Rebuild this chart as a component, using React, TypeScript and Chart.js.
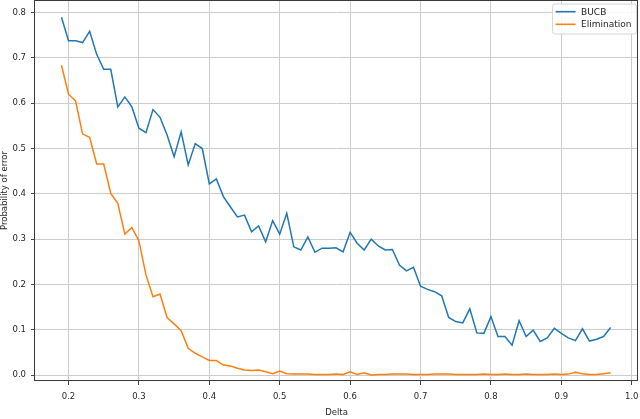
import React, { useEffect, useRef } from "react";
import { Chart, registerables } from "chart.js";

Chart.register(...registerables);

const deltas = [
  0.19, 0.2, 0.21, 0.22, 0.23, 0.24, 0.25, 0.26, 0.27, 0.28, 0.29,
  0.3, 0.31, 0.32, 0.33, 0.34, 0.35, 0.36, 0.37, 0.38, 0.39,
  0.4, 0.41, 0.42, 0.43, 0.44, 0.45, 0.46, 0.47, 0.48, 0.49,
  0.5, 0.51, 0.52, 0.53, 0.54, 0.55, 0.56, 0.57, 0.58, 0.59,
  0.6, 0.61, 0.62, 0.63, 0.64, 0.65, 0.66, 0.67, 0.68, 0.69,
  0.7, 0.71, 0.72, 0.73, 0.74, 0.75, 0.76, 0.77, 0.78, 0.79,
  0.8, 0.81, 0.82, 0.83, 0.84, 0.85, 0.86, 0.87, 0.88, 0.89,
  0.9, 0.91, 0.92, 0.93, 0.94, 0.95, 0.96, 0.97,
];

const bucb = [
  0.79, 0.738, 0.738, 0.734, 0.759, 0.708, 0.675, 0.675, 0.592, 0.614, 0.592,
  0.545, 0.535, 0.586, 0.569, 0.53, 0.482, 0.537, 0.464, 0.511, 0.5,
  0.422, 0.433, 0.394, 0.371, 0.349, 0.353, 0.316, 0.329, 0.294, 0.341,
  0.311, 0.357, 0.283, 0.276, 0.305, 0.271, 0.28, 0.28, 0.281, 0.272,
  0.315, 0.291, 0.276, 0.3, 0.285, 0.276, 0.277, 0.243, 0.23, 0.238,
  0.196, 0.189, 0.184, 0.175, 0.127, 0.118, 0.115, 0.146, 0.093, 0.092,
  0.129, 0.085, 0.085, 0.066, 0.12, 0.085, 0.099, 0.074, 0.082, 0.103,
  0.092, 0.082, 0.076, 0.102, 0.075, 0.079, 0.085, 0.105,
];

const elimination = [
  0.684, 0.62, 0.605, 0.532, 0.525, 0.466, 0.466, 0.401, 0.379, 0.311, 0.326,
  0.296, 0.221, 0.173, 0.179, 0.127, 0.113, 0.098, 0.059, 0.048, 0.04,
  0.032, 0.032, 0.022, 0.02, 0.015, 0.011, 0.01, 0.011, 0.007, 0.003,
  0.009, 0.003, 0.002, 0.002, 0.002, 0.001, 0.001, 0.001, 0.002, 0.001,
  0.007, 0.001, 0.005, 0.0, 0.001, 0.001, 0.002, 0.002, 0.002, 0.001,
  0.001, 0.001, 0.002, 0.002, 0.002, 0.001, 0.001, 0.001, 0.001, 0.002,
  0.001, 0.001, 0.002, 0.001, 0.001, 0.002, 0.001, 0.001, 0.001, 0.002,
  0.001, 0.002, 0.006, 0.003, 0.001, 0.001, 0.003, 0.005,
];

const xTicks = [0.2, 0.3, 0.4, 0.5, 0.6, 0.7, 0.8, 0.9, 1.0];
const yTicks = [0.0, 0.1, 0.2, 0.3, 0.4, 0.5, 0.6, 0.7, 0.8];
const seriesLabels = ["BUCB", "Elimination"];
const seriesColors = ["#1f77b4", "#ff7f0e"];
const xTitle = "Delta";
const yTitle = "Probability of error";

const FONT_FAMILY = "'DejaVu Sans', sans-serif";
const FONT_SIZE = 8.5;
const TEXT_COLOR = "#262626";

const framePlugin = {
  id: "frame",
  afterDatasetsDraw(chart: any) {
    const { ctx, chartArea: a } = chart;
    ctx.save();
    ctx.strokeStyle = "#3a3a3a";
    ctx.lineWidth = 1;
    const l = Math.round(a.left) - 0.5;
    const t = Math.round(a.top) + 0.5;
    const r = Math.round(a.right) - 0.5;
    const b = Math.round(a.bottom) - 0.5;
    ctx.strokeRect(l, t, r - l, b - t);
    ctx.restore();
  },
};

const legendPlugin = {
  id: "mplLegend",
  afterDraw(chart: any) {
    const { ctx, chartArea: a } = chart;
    const ds = chart.data.datasets;
    ctx.save();
    ctx.font = `9px ${FONT_FAMILY}`;
    let textW = 0;
    ds.forEach((d: any) => {
      textW = Math.max(textW, ctx.measureText(d.label).width);
    });
    const padL = 3;
    const lineLen = 20;
    const gap = 5.5;
    const padR = 5;
    const rowH = 12.6;
    const boxW = padL + lineLen + gap + textW + padR;
    const boxH = 30;
    const right = a.right - 1.5;
    const left = right - boxW;
    const top = a.top + 4;
    const rad = 2.5;
    ctx.beginPath();
    ctx.moveTo(left + rad, top);
    ctx.lineTo(right - rad, top);
    ctx.quadraticCurveTo(right, top, right, top + rad);
    ctx.lineTo(right, top + boxH - rad);
    ctx.quadraticCurveTo(right, top + boxH, right - rad, top + boxH);
    ctx.lineTo(left + rad, top + boxH);
    ctx.quadraticCurveTo(left, top + boxH, left, top + boxH - rad);
    ctx.lineTo(left, top + rad);
    ctx.quadraticCurveTo(left, top, left + rad, top);
    ctx.closePath();
    ctx.fillStyle = "rgba(255,255,255,0.85)";
    ctx.fill();
    ctx.strokeStyle = "#d5d5d5";
    ctx.lineWidth = 1;
    ctx.stroke();
    ds.forEach((d: any, i: number) => {
      const y = top + 7.7 + i * rowH;
      ctx.beginPath();
      ctx.strokeStyle = d.borderColor;
      ctx.lineWidth = 1.6;
      ctx.moveTo(left + padL, y);
      ctx.lineTo(left + padL + lineLen, y);
      ctx.stroke();
      ctx.fillStyle = TEXT_COLOR;
      ctx.textBaseline = "middle";
      ctx.textAlign = "left";
      ctx.fillText(d.label, left + padL + lineLen + gap, y + 0.5);
    });
    ctx.restore();
  },
};

function zeroPadding(scale: any) {
  scale.paddingTop = 0;
  scale.paddingBottom = 0;
  scale.paddingLeft = 0;
  scale.paddingRight = 0;
}

export default function App() {
  const canvasRef = useRef<HTMLCanvasElement | null>(null);

  useEffect(() => {
    document.body.style.margin = "0";
    const canvas = canvasRef.current;
    if (!canvas) return;
    const font = { family: FONT_FAMILY, size: FONT_SIZE };
    const chart = new Chart(canvas, {
      type: "line",
      data: {
        datasets: [bucb, elimination].map((vals, si) => ({
          label: seriesLabels[si],
          data: deltas.map((d, i) => ({ x: d, y: vals[i] })),
          borderColor: seriesColors[si],
          backgroundColor: seriesColors[si],
          borderWidth: 1.5,
          pointRadius: 0,
          tension: 0,
          fill: false,
        })),
      },
      options: {
        responsive: false,
        animation: false,
        devicePixelRatio: 1,
        layout: { padding: { top: 0, right: 2, bottom: 0, left: 0 } },
        plugins: {
          legend: { display: false },
          tooltip: { enabled: false },
          title: { display: false },
        },
        scales: {
          x: {
            type: "linear",
            min: 0.1524,
            max: 1.0089,
            afterBuildTicks: (s: any) => {
              s.ticks = xTicks.map((v) => ({ value: v }));
            },
            afterFit: (s: any) => {
              s.height = 38;
              zeroPadding(s);
            },
            ticks: {
              callback: (v: any) => Number(v).toFixed(1),
              font,
              color: TEXT_COLOR,
              padding: 7,
              maxRotation: 0,
              autoSkip: false,
            },
            grid: {
              color: "#cccccc",
              tickColor: "#444444",
              tickLength: 4,
              lineWidth: 1,
            },
            border: { display: false },
            title: {
              display: true,
              text: xTitle,
              font,
              color: TEXT_COLOR,
              padding: { top: 0, bottom: 1 },
            },
          },
          y: {
            type: "linear",
            min: -0.0132,
            max: 0.828,
            afterBuildTicks: (s: any) => {
              s.ticks = yTicks.map((v) => ({ value: v }));
            },
            afterFit: (s: any) => {
              s.width = 35;
              zeroPadding(s);
            },
            ticks: {
              callback: (v: any) => Number(v).toFixed(1),
              font,
              color: TEXT_COLOR,
              padding: 5,
              autoSkip: false,
            },
            grid: {
              color: "#cccccc",
              tickColor: "#444444",
              tickLength: 4,
              lineWidth: 1,
            },
            border: { display: false },
            title: {
              display: true,
              text: yTitle,
              font,
              color: TEXT_COLOR,
              padding: { top: 0, bottom: 0 },
            },
          },
        },
      },
      plugins: [framePlugin, legendPlugin],
    });
    return () => chart.destroy();
  }, []);

  return (
    <canvas
      ref={canvasRef}
      width={640}
      height={419}
      style={{ display: "block", width: 640, height: 419 }}
    />
  );
}
